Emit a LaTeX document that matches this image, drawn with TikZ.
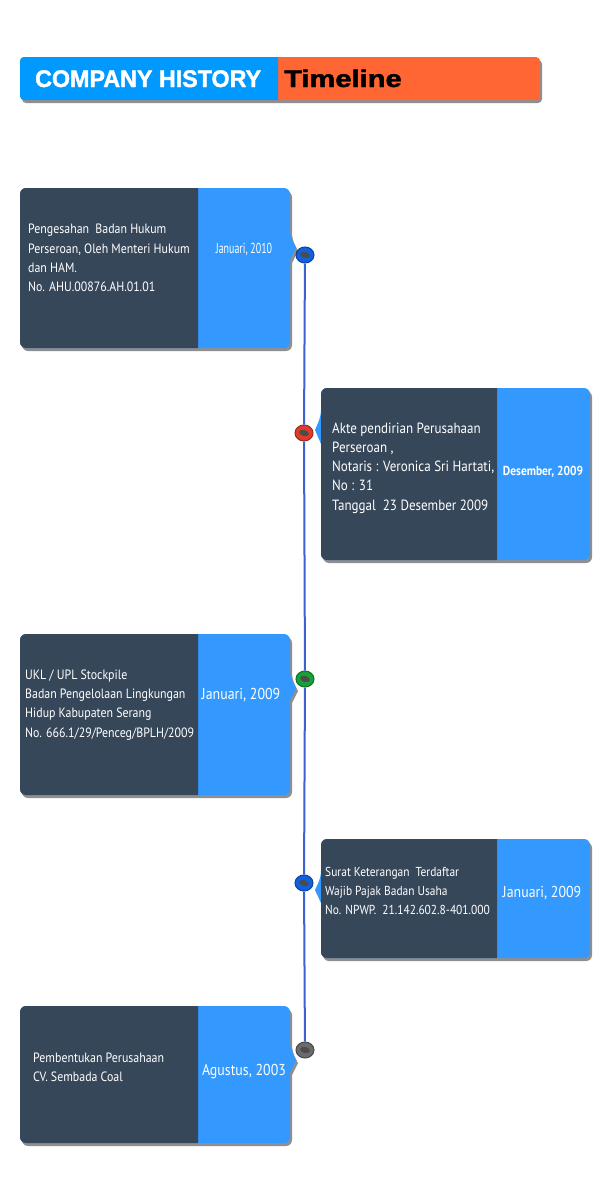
\documentclass[tikz,border=0pt]{standalone}
\usepackage{fontspec}
\setmainfont{PT Sans}[FakeStretch=0.88]
\newfontfamily\headfont{Liberation Sans}[FakeStretch=0.97,FakeBold=1.6]
\usetikzlibrary{shapes.geometric,shadows}
\definecolor{boxdark}{HTML}{37475A}
\definecolor{boxblue}{HTML}{3399FF}
\definecolor{headblue}{HTML}{0099FF}
\definecolor{headorange}{HTML}{FF6633}
\definecolor{lineblue}{HTML}{3A63CF}
\definecolor{dotblue}{HTML}{1160E0}
\definecolor{dotred}{HTML}{E03A2A}
\definecolor{dotgreen}{HTML}{17A035}
\definecolor{dotgray}{HTML}{6A6A6A}

\begin{document}
\begin{tikzpicture}[x=1pt,y=-1pt,
  boxshadow/.style={drop shadow={shadow xshift=2pt,shadow yshift=-3pt,opacity=.55,fill=black!80}},
  txt/.style={anchor=west,align=left,text=white,inner sep=0pt,font=\fontsize{13.5}{19.2}\selectfont},
  datetxt/.style={text=white,inner sep=0pt,font=\fontsize{15.8}{17}\selectfont},
  tldot/.style={ellipse,minimum width=18pt,minimum height=16pt,inner sep=0pt,
    fill=#1,draw=#1!70!black,line width=1pt,
    path picture={\fill[black!70] (path picture bounding box.center) ellipse [x radius=5pt,y radius=3pt,rotate=-15];}},
  tline/.style={lineblue,line width=2pt}]
\fill[white] (0,0) rectangle (600,1200);
\useasboundingbox (0,0) rectangle (600,1200);
%
% header
\path[fill=headorange,boxshadow,rounded corners=4pt] (20,57) rectangle (540,100);
\begin{scope}
\clip (0,50) rectangle (278,110);
\fill[headblue,rounded corners=4pt] (20,57) rectangle (540,100);
\end{scope}
\node[anchor=base west,inner sep=0pt,text=white,font=\headfont\bfseries\fontsize{24}{24}\selectfont] (head) at (35,87) {COMPANY HISTORY};
\node[anchor=base west,inner sep=0pt,font=\headfont\bfseries\fontsize{24}{24}\selectfont] (subhead) at (284,87) {\scalebox{1.25}[1]{Timeline}};
%
% timeline
\node[tldot=dotblue] (d1) at (305,255) {};
\node[tldot=dotred] (d2) at (304,433) {};
\node[tldot=dotgreen] (d3) at (305,679) {};
\node[tldot=dotblue] (d4) at (304,883) {};
\node[tldot=dotgray] (d5) at (305,1050) {};
\draw[tline] (d1) -- (d2) (d2) -- (d3) (d3) -- (d4) (d4) -- (d5);
%
% Januari 2010
\path[fill=boxblue,boxshadow,rounded corners=6pt] (20,188) -- (290,188) -- (290,236) [sharp corners] -- (296,248) -- (290,260) [rounded corners=6pt] -- (290,348) -- (20,348) -- cycle;
\begin{scope}
\clip (0,180) rectangle (198,360);
\fill[boxdark,rounded corners=6pt] (20,188) rectangle (290,348);
\end{scope}
\node[txt] (t1) at (28,258) {Pengesahan\ \ Badan Hukum\\Perseroan, Oleh Menteri Hukum\\dan HAM.\\No. AHU.00876.AH.01.01};
\node[datetxt,font=\fontsize{14.5}{16}\selectfont] (dt1) at (244,249) {\scalebox{.78}[1]{Januari, 2010}};
%
% Desember 2009
\path[fill=boxblue,boxshadow,rounded corners=6pt] (590,388) -- (321,388) -- (321,416) [sharp corners] -- (315,430) -- (321,444) [rounded corners=6pt] -- (321,560) -- (590,560) -- cycle;
\begin{scope}
\clip (300,380) rectangle (497,570);
\fill[boxdark,rounded corners=6pt] (321,388) rectangle (590,560);
\end{scope}
\node[txt,font=\fontsize{14.8}{19.2}\selectfont] (t2) at (332,468) {Akte pendirian Perusahaan\\Perseroan ,\\Notaris : Veronica Sri Hartati,\\No : 31\\Tanggal\ \ 23 Desember 2009};
\node[datetxt,font=\bfseries\fontsize{13}{15}\selectfont] (dt2) at (543,472) {Desember, 2009};
%
% Januari 2009
\path[fill=boxblue,boxshadow,rounded corners=6pt] (20,634) -- (290,634) -- (290,676) [sharp corners] -- (296,688) -- (290,700) [rounded corners=6pt] -- (290,795) -- (20,795) -- cycle;
\begin{scope}
\clip (0,625) rectangle (198,805);
\fill[boxdark,rounded corners=6pt] (20,634) rectangle (290,795);
\end{scope}
\node[txt] (t3) at (25,705) {UKL / UPL Stockpile\\Badan Pengelolaan Lingkungan\\Hidup Kabupaten Serang\\No. 666.1/29/Penceg/BPLH/2009};
\node[datetxt] (dt3) at (241,695) {Januari, 2009};
%
% Januari 2009 (NPWP)
\path[fill=boxblue,boxshadow,rounded corners=6pt] (590,839) -- (321,839) -- (321,877) [sharp corners] -- (315,890) -- (321,903) [rounded corners=6pt] -- (321,958) -- (590,958) -- cycle;
\begin{scope}
\clip (300,830) rectangle (497,970);
\fill[boxdark,rounded corners=6pt] (321,839) rectangle (590,958);
\end{scope}
\node[txt,font=\fontsize{13}{19.2}\selectfont] (t4) at (325,891) {Surat Keterangan\ \ Terdaftar\\Wajib Pajak Badan Usaha\\No. NPWP.\ \ 21.142.602.8-401.000};
\node[datetxt] (dt4) at (542,893) {Januari, 2009};
%
% Agustus 2003
\path[fill=boxblue,boxshadow,rounded corners=6pt] (20,1006) -- (290,1006) -- (290,1048) [sharp corners] -- (296,1060) -- (290,1072) [rounded corners=6pt] -- (290,1143) -- (20,1143) -- cycle;
\begin{scope}
\clip (0,1000) rectangle (198,1150);
\fill[boxdark,rounded corners=6pt] (20,1006) rectangle (290,1143);
\end{scope}
\node[txt] (t5) at (33,1067) {Pembentukan Perusahaan\\CV. Sembada Coal};
\node[datetxt] (dt5) at (244,1072) {Agustus, 2003};
%
\end{tikzpicture}
\end{document}
